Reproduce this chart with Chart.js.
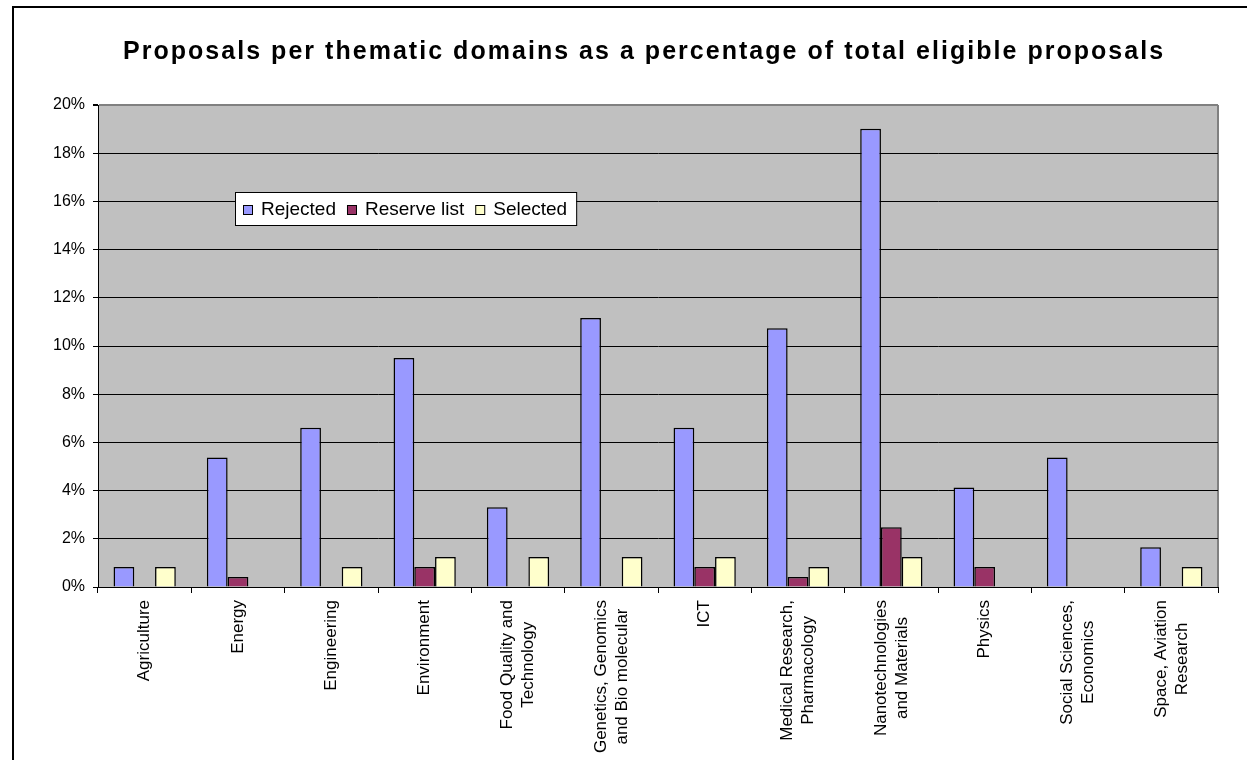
<!DOCTYPE html>
<html>
<head>
<meta charset="utf-8">
<title>Proposals per thematic domains</title>
<script src="https://cdn.jsdelivr.net/npm/chart.js@4/dist/chart.umd.min.js"></script>
<style>
  html, body { margin: 0; padding: 0; background: #fff; }
  canvas { display: block; }
</style>
</head>
<body>
<canvas id="domainsChart" width="1247" height="760"></canvas>
<script>
const chartTitle = 'Proposals per thematic domains as a percentage of total eligible proposals';

const categories = [
    'Agriculture',
    'Energy',
    'Engineering',
    'Environment',
    ['Food Quality and', 'Technology'],
    ['Genetics, Genomics', 'and Bio molecular'],
    'ICT',
    ['Medical Research,', 'Pharmacology'],
    ['Nanotechnologies', 'and Materials'],
    'Physics',
    ['Social Sciences,', 'Economics'],
    ['Space, Aviation', 'Research']
];

// percent of total eligible proposals
const rejected    = [0.83, 5.37, 6.61, 9.50, 3.31, 11.16, 6.61, 10.74, 19.01, 4.13, 5.37, 1.65];
const reserveList = [0,    0.41, 0,    0.83, 0,    0,     0.83, 0.41,  2.48,  0.83, 0,    0];
const selected    = [0.83, 0,    0.83, 1.24, 1.24, 1.24,  1.24, 0.83,  1.24,  0,    0,    0.83];

const seriesNames = ['Rejected', 'Reserve list', 'Selected'];
const seriesColors = ['#9999FF', '#993366', '#FFFFCC'];

const yMin = 0;
const yMax = 20;
const yStep = 2;

const FONT = '"Liberation Sans", Arial, sans-serif';

const frameAndLabels = {
    id: 'frameAndLabels',
    beforeDraw(chart) {
        const {ctx, chartArea: a} = chart;
        ctx.save();
        ctx.fillStyle = '#fff';
        ctx.fillRect(0, 0, chart.width, chart.height);
        ctx.fillStyle = '#C0C0C0';
        ctx.fillRect(a.left, a.top, a.right - a.left, a.bottom - a.top);

        // plot border on the right
        ctx.strokeStyle = '#808080';
        ctx.lineWidth = 2;
        ctx.beginPath();
        ctx.moveTo(a.right, a.top);
        ctx.lineTo(a.right, a.bottom);
        ctx.stroke();

        // outer chart frame
        ctx.strokeStyle = '#000';
        ctx.lineWidth = 2;
        ctx.beginPath();
        ctx.moveTo(13, chart.height);
        ctx.lineTo(13, 7);
        ctx.lineTo(chart.width, 7);
        ctx.stroke();

        // title, spaced out to the original width
        ctx.font = 'bold 25px ' + FONT;
        const plain = ctx.measureText(chartTitle).width;
        const spacing = Math.max(0, (1040 - plain) / (chartTitle.length - 1));
        ctx.letterSpacing = spacing.toFixed(2) + 'px';
        ctx.fillStyle = '#000';
        ctx.textAlign = 'left';
        ctx.textBaseline = 'middle';
        ctx.fillText(chartTitle, 123, 52);
        ctx.letterSpacing = '0px';
        ctx.restore();
    },
    afterDatasetsDraw(chart) {
        const {ctx, chartArea: a} = chart;
        const xScale = chart.scales.x;

        // category labels, rotated, lines centred on each other
        ctx.save();
        ctx.font = '17px ' + FONT;
        ctx.fillStyle = '#000';
        ctx.textAlign = 'center';
        ctx.textBaseline = 'middle';
        const lh = 21;
        categories.forEach((label, i) => {
            const lines = Array.isArray(label) ? label : [label];
            const maxW = Math.max(...lines.map(l => ctx.measureText(l).width));
            ctx.save();
            ctx.translate(xScale.getPixelForTick(i), a.bottom + 13);
            ctx.rotate(-Math.PI / 2);
            lines.forEach((line, j) => {
                ctx.fillText(line, -maxW / 2, (j - (lines.length - 1) / 2) * lh);
            });
            ctx.restore();
        });
        ctx.restore();

        // legend box inside the plot
        ctx.save();
        ctx.font = '19px ' + FONT;
        ctx.textBaseline = 'middle';
        ctx.textAlign = 'left';
        const boxX = 235, boxY = 192, boxH = 33;
        let x = boxX + 8;
        const items = chart.data.datasets.map(ds => {
            const w = ctx.measureText(ds.label).width;
            const it = {x, label: ds.label, color: ds.backgroundColor, w};
            x += 9 + 9 + w + 11;
            return it;
        });
        const boxW = x - 11 + 9 - boxX;
        ctx.fillStyle = '#fff';
        ctx.fillRect(boxX, boxY, boxW, boxH);
        ctx.strokeStyle = '#000';
        ctx.lineWidth = 1;
        ctx.strokeRect(boxX + 0.5, boxY + 0.5, boxW, boxH);
        const cy = boxY + boxH / 2 + 1;
        items.forEach(it => {
            ctx.fillStyle = it.color;
            ctx.fillRect(it.x, cy - 4.5, 9, 9);
            ctx.strokeRect(it.x + 0.5, cy - 4.5 + 0.5, 9, 9);
            ctx.fillStyle = '#000';
            ctx.fillText(it.label, it.x + 18, cy);
        });
        ctx.restore();
    }
};

const data = {
    labels: categories,
    datasets: [rejected, reserveList, selected].map((values, i) => ({
        label: seriesNames[i],
        data: values,
        backgroundColor: seriesColors[i],
        borderColor: '#000',
        borderWidth: c => (c.raw ? 1.5 : 0),
        borderSkipped: 'start',
        barPercentage: 1,
        categoryPercentage: 0.667
    }))
};

const config = {
    type: 'bar',
    data: data,
    options: {
        responsive: false,
        animation: false,
        devicePixelRatio: 1,
        layout: {
            padding: {top: 105, right: 29, left: 0, bottom: 0}
        },
        plugins: {
            legend: {display: false},
            title: {display: false},
            tooltip: {enabled: false}
        },
        scales: {
            x: {
                offset: true,
                afterFit: scale => { scale.height = 173; },
                grid: {
                    offset: true,
                    drawOnChartArea: false,
                    drawTicks: true,
                    tickLength: 6,
                    color: '#000'
                },
                border: {color: '#000', width: 1},
                ticks: {display: false}
            },
            y: {
                min: yMin,
                max: yMax,
                afterFit: scale => { scale.width = 98; },
                grid: {
                    color: c => (c.tick && c.tick.value === yMax ? '#808080' : '#000'),
                    lineWidth: c => (c.tick && c.tick.value === yMax ? 2 : 1),
                    tickColor: '#000',
                    tickLength: 5
                },
                border: {color: '#000', width: 1},
                ticks: {
                    stepSize: yStep,
                    padding: 8,
                    color: '#000',
                    font: {family: FONT, size: 16},
                    callback: v => v + '%'
                }
            }
        }
    },
    plugins: [frameAndLabels]
};

new Chart(document.getElementById('domainsChart'), config);
</script>
</body>
</html>
